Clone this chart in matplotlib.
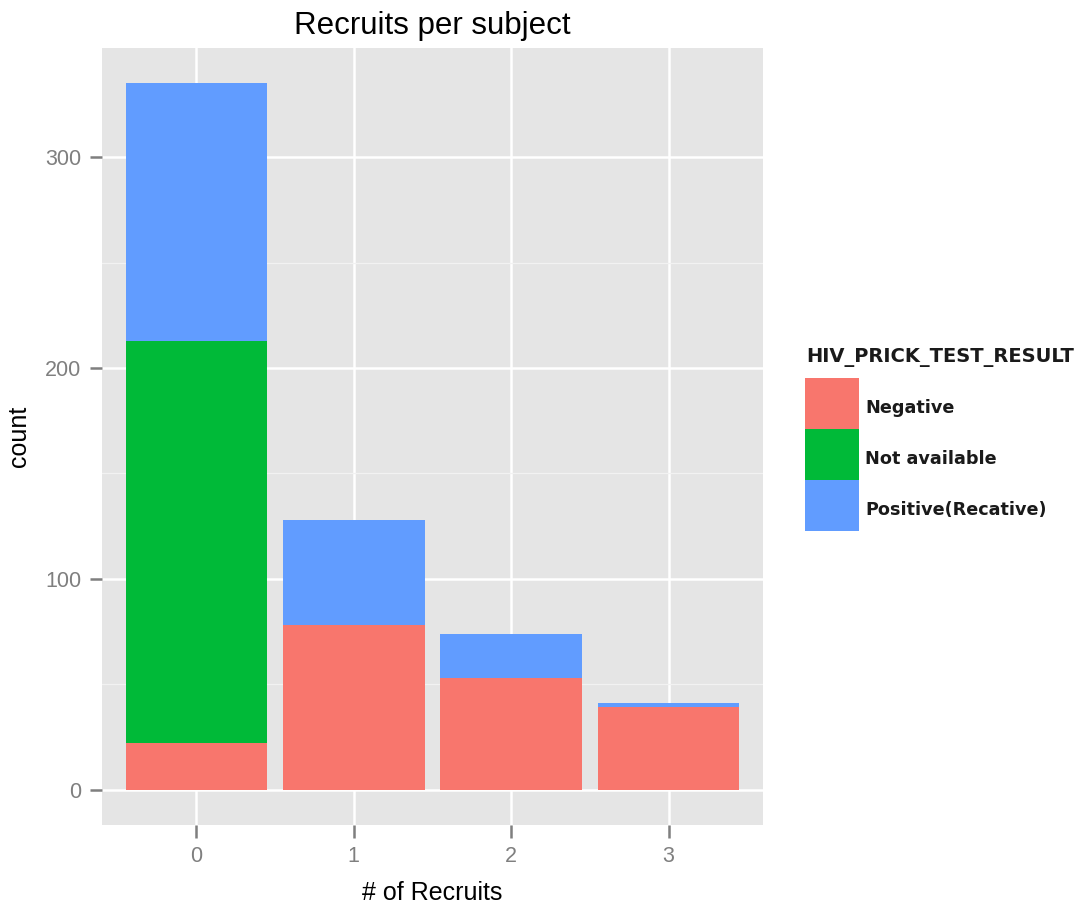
import matplotlib.pyplot as plt
import numpy as np
from matplotlib.patches import Rectangle

plt.rcParams['font.family'] = ['Liberation Sans', 'DejaVu Sans']

# counts
recruits = [0, 1, 2, 3]
groups = ['Negative', 'Not available', 'Positive(Recative)']
negative = [22, 78, 53, 39]
not_available = [191, 0, 0, 0]
positive = [122, 50, 21, 2]
colors = ['#F8766D', '#00BA38', '#619CFF']

fig = plt.figure(figsize=(10.91, 9.07), dpi=100)
ax = fig.add_axes([102 / 1091, 1 - 825 / 907, (763 - 102) / 1091, (825 - 48) / 907])
ax.set_facecolor('#E5E5E5')

x = np.array(recruits)
bottom = np.zeros(len(x))
for vals, col in zip([negative, not_available, positive], colors):
    ax.bar(x, vals, width=0.9, bottom=bottom, color=col, linewidth=0, zorder=3)
    bottom += np.array(vals)

total_max = bottom.max()
ax.set_xlim(-0.6, 3.6)
ax.set_ylim(-0.05 * total_max, total_max * 1.05)
ax.set_xticks(x)
ax.set_xticklabels([str(r) for r in recruits])
ax.set_yticks([0, 100, 200, 300])
ax.set_yticks([50, 150, 250], minor=True)

ax.grid(True, which='major', color='white', linewidth=1.8, zorder=1)
ax.grid(True, which='minor', axis='y', color='#F2F2F2', linewidth=0.9, zorder=1)
ax.set_axisbelow(True)
for s in ax.spines.values():
    s.set_visible(False)

ax.tick_params(which='major', length=9, width=1.8, color='#7F7F7F',
               labelcolor='#7F7F7F', labelsize=15.5, pad=6)
ax.tick_params(which='minor', length=0)

ax.set_xlabel('# of Recruits', fontsize=18, labelpad=10)
ax.set_ylabel('count', fontsize=18, labelpad=10)
ax.set_title('Recruits per subject', fontsize=22.5, pad=10)

# legend drawn like ggplot's key column
W, H = 1091, 907
fig.text(806 / W, 1 - 358 / H, 'HIV_PRICK_TEST_RESULT', fontsize=14,
         family='DejaVu Sans', fontweight='bold', color='#1A1A1A',
         va='center', ha='left')
for i, (lab, col) in enumerate(zip(groups, colors)):
    top = 378 + i * 51
    fig.patches.append(Rectangle((805 / W, 1 - (top + 51) / H), 54 / W, 51 / H,
                                 transform=fig.transFigure, facecolor=col,
                                 edgecolor='none'))
    fig.text(865 / W, 1 - (top + 30) / H, lab, fontsize=12.7,
             family='DejaVu Sans', fontweight='bold', color='#1A1A1A',
             va='center', ha='left')

fig.savefig('out.png', dpi=100)
